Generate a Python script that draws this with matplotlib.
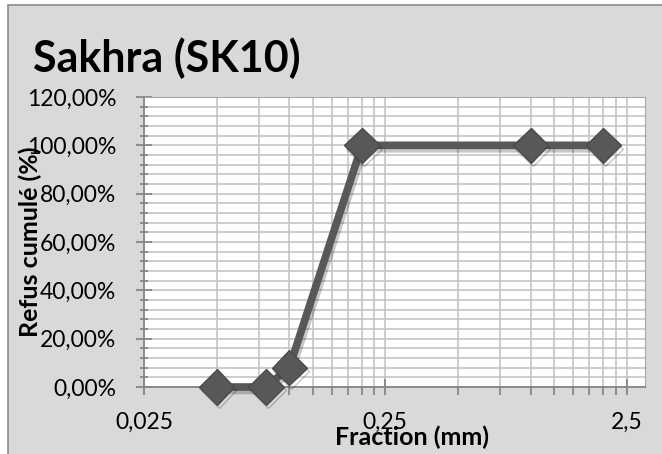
import matplotlib
matplotlib.use("Agg")
import matplotlib.pyplot as plt
import matplotlib.patheffects as pe
from matplotlib.patches import Rectangle
from matplotlib.ticker import FixedLocator, FuncFormatter, MultipleLocator

# data
fraction_mm = [0.05, 0.08, 0.1, 0.2, 1.0, 2.0]
refus_pct = [0, 0, 8, 100, 100, 100]
x_major = [0.025, 0.25, 2.5]
x_labels = ["0,025", "0,25", "2,5"]
title = "Sakhra (SK10)"

W, H = 662, 454
plt.rcParams['font.family'] = ['Lato', 'DejaVu Sans']

fig = plt.figure(figsize=(W / 100, H / 100), dpi=100)
fig.patch.set_facecolor("white")

# chart area background with frame
bg = Rectangle((8 / W, -0.01), 1, 1 - 5 / H + 0.01, transform=fig.transFigure,
               facecolor="#d9d9d9", edgecolor="#8c8c8c", lw=1.2, zorder=-10)
fig.patches.append(bg)

left, right, top, bottom = 144, 645, 97, 387
ax = fig.add_axes([left / W, 1 - bottom / H, (right - left) / W, (bottom - top) / H])
ax.set_zorder(5)
ax.set_facecolor("white")

ax.set_xscale("log")
ax.set_xlim(0.025, 2.98)
ax.set_ylim(0, 120)

minors = [k * 0.025 for k in range(2, 10)] + [k * 0.25 for k in range(2, 10)]
ax.xaxis.set_major_locator(FixedLocator(x_major))
ax.xaxis.set_minor_locator(FixedLocator(minors))
ax.xaxis.set_major_formatter(FuncFormatter(lambda v, p: x_labels[p] if p is not None and p < len(x_labels) else ""))
ax.xaxis.set_minor_formatter(FuncFormatter(lambda v, p: ""))

ax.yaxis.set_major_locator(MultipleLocator(20))
ax.yaxis.set_minor_locator(MultipleLocator(4))
ax.yaxis.set_major_formatter(FuncFormatter(lambda v, p: f"{v:.2f}%".replace(".", ",")))

ax.grid(True, which="both", color="#c0c0c0", lw=1.1)
ax.set_axisbelow(True)

for s in ax.spines.values():
    s.set_color("#a6a6a6")
ax.spines["left"].set_color("#868686")
ax.spines["bottom"].set_color("#868686")
ax.spines["left"].set_linewidth(1.3)
ax.spines["bottom"].set_linewidth(1.3)

ax.tick_params(axis="y", which="major", direction="inout", length=11, width=1.3,
               color="#868686", labelsize=16.5, pad=14.5)
ax.tick_params(axis="y", which="minor", direction="inout", length=6, width=1.3, color="#868686")
ax.tick_params(axis="x", which="major", direction="inout", length=12, width=1.3,
               color="#868686", labelsize=16.5, pad=12)
ax.tick_params(axis="x", which="minor", direction="out", length=6, width=1.3, color="#868686")

shadow = [pe.SimpleLineShadow(offset=(1.5, -2.5), alpha=0.22), pe.Normal()]
ax.plot(fraction_mm, refus_pct, color="#585858", lw=5.5, marker="D", ms=18,
        markeredgecolor="#4a4a4a", markerfacecolor="#585858", clip_on=False,
        path_effects=shadow, zorder=3)

fig.text(33 / W, 1 - 58 / H, title, fontsize=31, fontweight="bold", va="center", ha="left")
fig.text(412 / W, 1 - 437 / H, "Fraction (mm)", fontsize=18, fontweight="bold",
         va="center", ha="center", zorder=10)
fig.text(30 / W, 1 - 242 / H, "Refus cumulé (%)", fontsize=18, fontweight="bold",
         va="center", ha="center", rotation=90, zorder=10)

fig.savefig("out.png", dpi=100)
